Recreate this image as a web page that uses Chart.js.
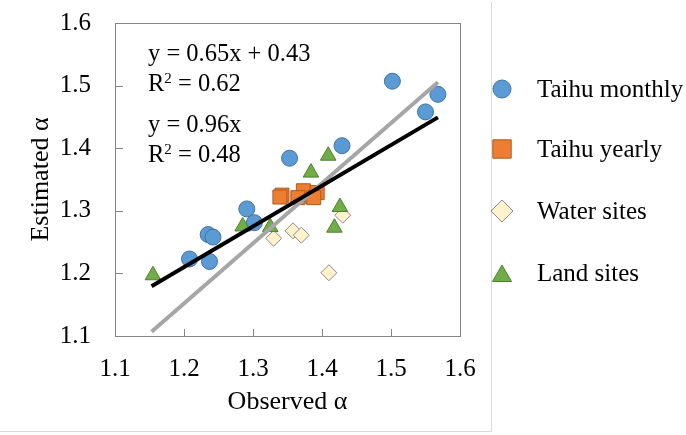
<!DOCTYPE html>
<html>
<head>
<meta charset="utf-8">
<script src="https://cdn.jsdelivr.net/npm/chart.js@4.4.1/dist/chart.umd.min.js"></script>
<style>
  html, body { margin: 0; padding: 0; background: #fff; }
  #wrap { position: relative; width: 686px; height: 435px; }
</style>
</head>
<body>
<div id="wrap"><canvas id="alphaChart"></canvas></div>
<script>
// observed vs estimated alpha, four groups of sites
const seriesNames = ['Taihu monthly', 'Taihu yearly', 'Water sites', 'Land sites'];

const monthlyObs = [1.502, 1.568, 1.550, 1.429, 1.353, 1.376, 1.291, 1.302, 1.235, 1.242, 1.208, 1.237];
const monthlyEst = [1.507, 1.486, 1.458, 1.404, 1.384, 1.325, 1.303, 1.281, 1.262, 1.258, 1.223, 1.219];

const yearlyObs = [1.342, 1.373, 1.393, 1.339, 1.365, 1.388];
const yearlyEst = [1.325, 1.332, 1.329, 1.322, 1.321, 1.321];

const waterObs = [1.330, 1.358, 1.370, 1.430, 1.410];
const waterEst = [1.256, 1.268, 1.261, 1.293, 1.201];

const landObs = [1.155, 1.409, 1.384, 1.285, 1.325, 1.426, 1.418];
const landEst = [1.197, 1.388, 1.361, 1.275, 1.274, 1.306, 1.273];

// trend lines: y = slope * x + intercept
const fitSlope = [0.65, 0.96];
const fitIntercept = [0.43, 0];
const fitR2 = [0.62, 0.48];
const fitRange = [1.153, 1.568];

const axisMin = 1.1;
const axisMax = 1.6;
const axisStep = 0.1;

const FONT = '"Liberation Serif", "Times New Roman", serif';
Chart.defaults.font.family = FONT;
Chart.defaults.color = '#000';

function toPoints(xs, ys) {
  return xs.map((x, i) => ({ x: x, y: ys[i] }));
}

function fitLine(k) {
  return fitRange.map(x => ({ x: x, y: fitSlope[k] * x + fitIntercept[k] }));
}

const markerStyles = [
  { pointStyle: 'circle',   bg: '#5b9bd5', border: '#41719c', r: 8,   legendR: 9 },
  { pointStyle: 'rect',     bg: '#ed7d31', border: '#ae5a21', r: 9.9, legendR: 13 },
  { pointStyle: 'rectRot',  bg: '#fff2cc', border: '#8a8a8a', r: 8,   legendR: 11 },
  { pointStyle: 'triangle', bg: '#70ad47', border: '#507e32', r: 9,   legendR: 11 }
];

function markerSet(k, data, order) {
  const s = markerStyles[k];
  return {
    label: seriesNames[k],
    data: data,
    pointStyle: s.pointStyle,
    pointRadius: s.r,
    pointBorderWidth: 1,
    backgroundColor: s.bg,
    borderColor: s.border,
    order: order
  };
}

// plot frame, inner tick marks, equations and legend
const decorations = {
  id: 'decorations',
  beforeDatasetsDraw(chart) {
    const ctx = chart.ctx;
    const a = chart.chartArea;
    ctx.save();
    ctx.strokeStyle = '#858585';
    ctx.lineWidth = 1;
    ctx.strokeRect(a.left + 0.5, a.top + 0.5, a.right - a.left, a.bottom - a.top);

    const xs = chart.scales.x, ys = chart.scales.y;
    ctx.beginPath();
    xs.ticks.forEach((t, i) => {
      if (i === 0 || i === xs.ticks.length - 1) return;
      const px = Math.round(xs.getPixelForValue(t.value)) + 0.5;
      ctx.moveTo(px, a.bottom);
      ctx.lineTo(px, a.bottom - 7);
    });
    ys.ticks.forEach((t, i) => {
      if (i === 0 || i === ys.ticks.length - 1) return;
      const py = Math.round(ys.getPixelForValue(t.value)) + 0.5;
      ctx.moveTo(a.left, py);
      ctx.lineTo(a.left + 8, py);
    });
    ctx.stroke();

    // outer chart frame
    ctx.strokeStyle = '#d9d9d9';
    ctx.beginPath();
    ctx.moveTo(491.5, 2);
    ctx.lineTo(491.5, 431.5);
    ctx.lineTo(0, 431.5);
    ctx.stroke();
    ctx.restore();
  },
  afterDraw(chart) {
    const ctx = chart.ctx;
    ctx.save();
    ctx.fillStyle = '#000';
    ctx.textBaseline = 'alphabetic';
    ctx.textAlign = 'left';

    const eqX = 148;
    const eqLines = [
      { eq: 'y = ' + fitSlope[0].toFixed(2) + 'x + ' + fitIntercept[0].toFixed(2), r2: fitR2[0].toFixed(2), y: 61 },
      { eq: 'y = ' + fitSlope[1].toFixed(2) + 'x', r2: fitR2[1].toFixed(2), y: 132 }
    ];
    eqLines.forEach(l => {
      ctx.font = '24.5px ' + FONT;
      ctx.fillText(l.eq, eqX, l.y);
      const by = l.y + 30;
      ctx.fillText('R', eqX, by);
      let x = eqX + ctx.measureText('R').width;
      ctx.font = '15px ' + FONT;
      ctx.fillText('2', x, by - 8);
      x += ctx.measureText('2').width;
      ctx.font = '24.5px ' + FONT;
      ctx.fillText(' = ' + l.r2, x, by);
    });

    // legend
    const rowY = [89, 149, 211, 273];
    seriesNames.forEach((name, k) => {
      const s = markerStyles[k];
      ctx.fillStyle = s.bg;
      ctx.strokeStyle = s.border;
      ctx.lineWidth = 1;
      const cy = s.pointStyle === 'triangle' ? rowY[k] + 3 : rowY[k];
      Chart.helpers.drawPoint(ctx, { pointStyle: s.pointStyle, radius: s.legendR, rotation: 0, borderWidth: 1 }, 502, cy);
      ctx.fillStyle = '#000';
      ctx.font = '25px ' + FONT;
      ctx.fillText(name, 537, rowY[k] + 8);
    });
    ctx.restore();
  }
};

const ctx = document.getElementById('alphaChart').getContext('2d');

new Chart(ctx, {
  type: 'scatter',
  data: {
    datasets: [
      { // black trend line
        label: 'fit1',
        data: fitLine(0),
        showLine: true,
        borderColor: '#000',
        borderWidth: 4,
        pointRadius: 0,
        order: 0
      },
      { // grey trend line
        label: 'fit2',
        data: fitLine(1),
        showLine: true,
        borderColor: '#a6a6a6',
        borderWidth: 4,
        pointRadius: 0,
        order: 1
      },
      markerSet(3, toPoints(landObs, landEst), 2),
      markerSet(2, toPoints(waterObs, waterEst), 3),
      markerSet(1, toPoints(yearlyObs, yearlyEst), 4),
      markerSet(0, toPoints(monthlyObs, monthlyEst), 5)
    ]
  },
  options: {
    responsive: true,
    maintainAspectRatio: false,
    animation: false,
    events: [],
    layout: { padding: { left: 0, right: 226, top: 23, bottom: 0 } },
    plugins: {
      legend: { display: false },
      tooltip: { enabled: false }
    },
    scales: {
      x: {
        type: 'linear',
        min: axisMin,
        max: axisMax,
        grid: { display: false, drawTicks: false },
        border: { display: false },
        ticks: {
          stepSize: axisStep,
          padding: 18,
          color: '#000',
          font: { size: 25 },
          callback: v => v.toFixed(1)
        },
        title: {
          display: true,
          text: 'Observed α',
          color: '#000',
          font: { size: 26 },
          padding: { top: 0, bottom: 17 }
        },
        afterFit: s => { s.height = 99; s.paddingLeft = 0; s.paddingRight = 0; }
      },
      y: {
        type: 'linear',
        min: axisMin,
        max: axisMax,
        grid: { display: false, drawTicks: false },
        border: { display: false },
        ticks: {
          stepSize: axisStep,
          padding: 24,
          color: '#000',
          font: { size: 25 },
          callback: v => v.toFixed(1)
        },
        title: {
          display: true,
          text: 'Estimated α',
          color: '#000',
          font: { size: 26 },
          padding: { top: 26, bottom: 0 }
        },
        afterFit: s => { s.width = 115; s.paddingTop = 0; s.paddingBottom = 0; }
      }
    }
  },
  plugins: [decorations]
});
</script>
</body>
</html>
